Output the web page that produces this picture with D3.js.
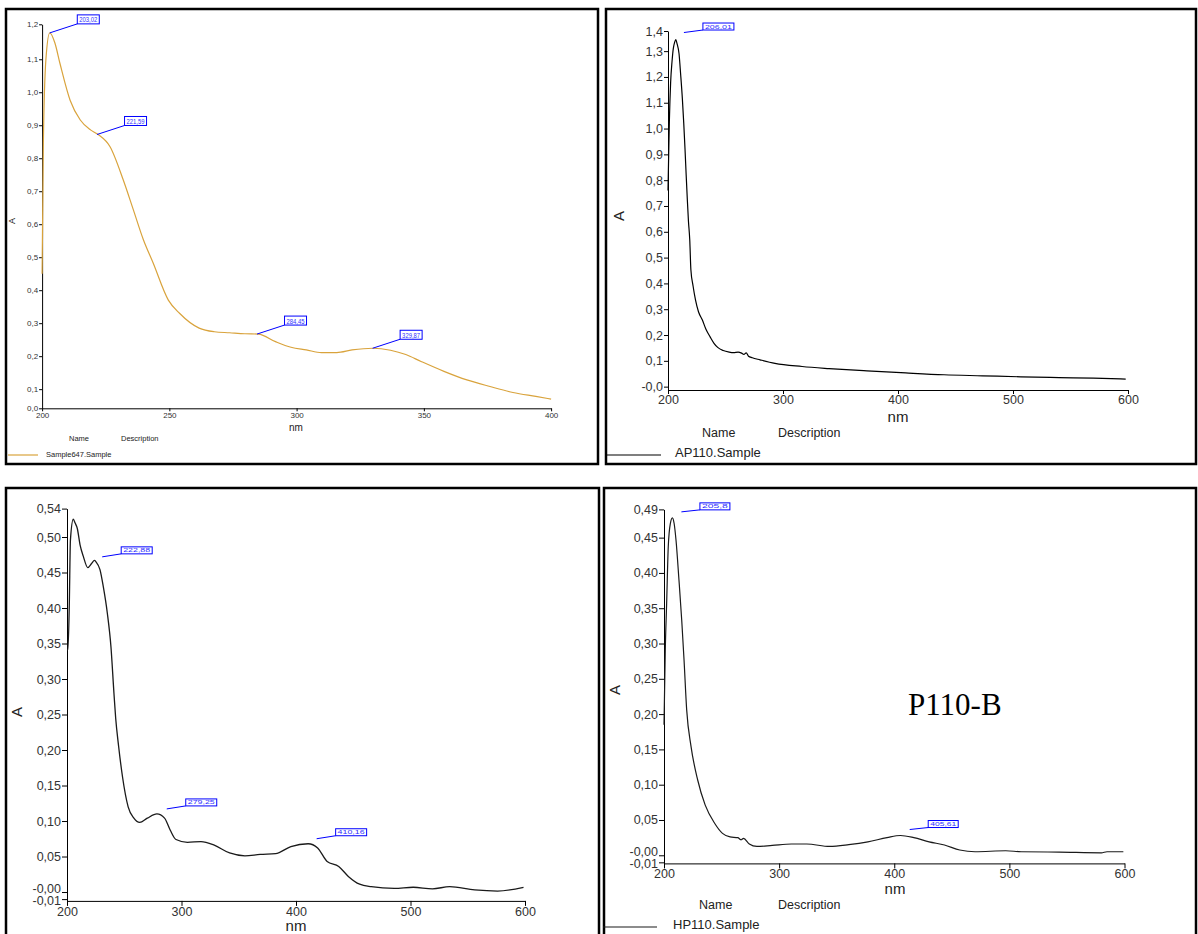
<!DOCTYPE html>
<html>
<head>
<meta charset="utf-8">
<script src="https://cdn.jsdelivr.net/npm/d3@7"></script>
<style>
  body { margin: 0; background: #fff; }
  svg { display: block; font-family: "Liberation Sans", Arial, sans-serif; }
</style>
</head>
<body>
<svg id="chart" width="1198" height="934"></svg>
<script>
// ---- data ----
// Sample647 (top left)
const s647Nm = [200, 200.5, 201.5, 203, 205, 207, 211, 215, 219, 222, 226.7, 231.9, 235.8, 239.8, 243.6, 249.6, 254, 261.7, 267.7, 273.7, 279.7, 285, 291.7, 297.8, 303.8, 309.8, 315.8, 321.8, 330, 336.9, 342.9, 348.9, 357.9, 366.9, 376, 385, 394, 400];
const s647A = [0.45, 0.85, 1.10, 1.18, 1.15, 1.088, 0.976, 0.916, 0.886, 0.872, 0.835, 0.734, 0.645, 0.553, 0.483, 0.370, 0.330, 0.285, 0.274, 0.271, 0.268, 0.267, 0.244, 0.227, 0.219, 0.211, 0.211, 0.219, 0.224, 0.218, 0.205, 0.184, 0.154, 0.128, 0.108, 0.090, 0.078, 0.070];
const s647PeakNm = [203.02, 221.59, 284.45, 329.87];
const s647PeakA = [1.18, 0.872, 0.267, 0.224];
const s647PeakLabels = ["203,02", "221,59", "284,45", "329,87"];
const s647XTicks = [200, 250, 300, 350, 400];
const s647YTicks = [0.042, 0.1, 0.2, 0.3, 0.4, 0.5, 0.6, 0.7, 0.8, 0.9, 1.0, 1.1, 1.206];
const s647YLabels = ["0,0", "0,1", "0,2", "0,3", "0,4", "0,5", "0,6", "0,7", "0,8", "0,9", "1,0", "1,1", "1,2"];

// AP110 (top right)
const ap110Nm = [200, 200.6, 201.2, 202.3, 203.5, 204.6, 205.8, 206.8, 207.8, 209.6, 211, 212.5, 213.7, 214.8, 215.8, 216.8, 217.8, 218.9, 219.9, 221.8, 223.9, 226.5, 229.9, 233, 236.6, 240, 243.2, 248, 253.2, 257, 261, 264, 266, 268, 270, 273.3, 280, 293, 316.6, 340, 373, 406.7, 440, 473.4, 506.8, 540, 570, 598];
const ap110A = [0.76, 0.90, 1.03, 1.18, 1.26, 1.31, 1.335, 1.345, 1.33, 1.29, 1.21, 1.115, 1.02, 0.92, 0.82, 0.725, 0.64, 0.57, 0.453, 0.39, 0.336, 0.29, 0.258, 0.222, 0.193, 0.168, 0.152, 0.140, 0.134, 0.132, 0.134, 0.130, 0.125, 0.131, 0.118, 0.112, 0.104, 0.090, 0.078, 0.070, 0.061, 0.053, 0.046, 0.042, 0.038, 0.035, 0.033, 0.029];
const ap110PeakNm = [206.01];
const ap110PeakA = [1.345];
const ap110PeakLabels = ["206,01"];
const ap110XTicks = [200, 300, 400, 500, 600];
const ap110YTicks = [0, 0.1, 0.2, 0.3, 0.4, 0.5, 0.6, 0.7, 0.8, 0.9, 1.0, 1.1, 1.2, 1.3, 1.378];
const ap110YLabels = ["-0,0", "0,1", "0,2", "0,3", "0,4", "0,5", "0,6", "0,7", "0,8", "0,9", "1,0", "1,1", "1,2", "1,3", "1,4"];

// bottom left
const blNm = [200, 200.8, 202, 203, 205.5, 207, 209, 211.4, 214.2, 218.1, 221.6, 224, 225.3, 228.8, 231.7, 235.2, 238.4, 241, 242.5, 245.1, 248.5, 253.4, 258.4, 263.5, 270.1, 278.5, 285.2, 290.2, 295.2, 305.2, 317, 328.6, 342, 355.4, 368.7, 382.1, 395.5, 410.6, 418.9, 427.2, 437.3, 445.7, 455.6, 465.7, 485.8, 502.4, 519.2, 534.2, 556, 576, 598.7];
const blA = [0.341, 0.341, 0.404, 0.496, 0.525, 0.52, 0.512, 0.489, 0.473, 0.457, 0.463, 0.467, 0.465, 0.454, 0.430, 0.393, 0.345, 0.28, 0.245, 0.205, 0.162, 0.120, 0.104, 0.098, 0.104, 0.110, 0.104, 0.087, 0.074, 0.070, 0.071, 0.066, 0.055, 0.051, 0.053, 0.054, 0.064, 0.068, 0.062, 0.043, 0.036, 0.022, 0.011, 0.0075, 0.005, 0.0067, 0.0045, 0.0075, 0.003, 0.0014, 0.0066];
const blPeakNm = [222.88, 279.25, 410.16];
const blPeakA = [0.465, 0.110, 0.068];
const blPeakLabels = ["222,88", "279,25", "410,16"];
const blXTicks = [200, 300, 400, 500, 600];
const blYTicks = [-0.01, 0, 0.05, 0.10, 0.15, 0.20, 0.25, 0.30, 0.35, 0.40, 0.45, 0.50, 0.54];
const blYLabels = ["-0,01", "-0,00", "0,05", "0,10", "0,15", "0,20", "0,25", "0,30", "0,35", "0,40", "0,45", "0,50", "0,54"];

// HP110 (bottom right)
const hp110Nm = [200, 201.1, 202.3, 203.7, 205.5, 207.3, 208.8, 210.4, 213, 215.4, 217.4, 219.7, 223.5, 229.2, 235.8, 244.1, 250.8, 257.4, 264.1, 267, 269.1, 274.1, 280.7, 294, 310.7, 324, 343.9, 360.5, 377.1, 393.7, 405.4, 417, 430.3, 443.6, 456.9, 470.2, 496.9, 510.2, 543.4, 579.9, 584.8, 599];
const hp110A = [0.185, 0.29, 0.357, 0.437, 0.47, 0.478, 0.47, 0.447, 0.390, 0.333, 0.277, 0.206, 0.154, 0.107, 0.071, 0.045, 0.031, 0.026, 0.025, 0.022, 0.024, 0.016, 0.0125, 0.014, 0.016, 0.016, 0.0125, 0.015, 0.019, 0.025, 0.028, 0.025, 0.019, 0.0146, 0.0075, 0.005, 0.0064, 0.005, 0.0045, 0.0035, 0.005, 0.005];
const hp110PeakNm = [207.3, 405.61];
const hp110PeakA = [0.478, 0.028];
const hp110PeakLabels = ["205,8", "405,61"];
const hp110XTicks = [200, 300, 400, 500, 600];
const hp110YTicks = [-0.01, 0, 0.05, 0.10, 0.15, 0.20, 0.25, 0.30, 0.35, 0.40, 0.45, 0.49];
const hp110YLabels = ["-0,01", "-0,00", "0,05", "0,10", "0,15", "0,20", "0,25", "0,30", "0,35", "0,40", "0,45", "0,49"];

const svg = d3.select("#chart");

// panel frames
[[6, 9, 592, 455], [606, 9, 590, 455], [6, 488, 593, 452], [604, 488, 592, 452]].forEach(([x, y, w, h]) => {
  svg.append("rect").attr("x", x).attr("y", y).attr("width", w).attr("height", h)
    .attr("fill", "none").attr("stroke", "#000").attr("stroke-width", 2.5);
});

function drawPanel(o) {
  const x = d3.scaleLinear().domain(o.xDomain).range(o.xRange);
  const y = d3.scaleLinear().domain(o.yDomain).range(o.yRange);
  const g = svg.append("g");

  const yAxis = d3.axisLeft(y).tickValues(o.yTicks).tickFormat((d, i) => o.yLabels[i])
    .tickSize(o.tick).tickSizeOuter(0).tickPadding(1);
  const xAxis = d3.axisBottom(x).tickValues(o.xTicks).tickFormat(d3.format("d"))
    .tickSize(o.tick).tickSizeOuter(0).tickPadding(1);

  g.append("g").attr("transform", `translate(${o.xRange[0]},0)`).call(yAxis)
    .call(a => a.selectAll("text").attr("font-size", o.fs).attr("fill", "#333").attr("font-family", null))
    // the two labels crowded at the bottom are pushed apart, as in the original
    .call(a => a.selectAll(".tick text").filter(d => d === 0 && o.yTicks.includes(-0.01)).attr("dy", "0.05em"))
    .call(a => a.selectAll(".tick text").filter(d => d === -0.01).attr("dy", "0.42em"));
  g.append("g").attr("transform", `translate(0,${o.yRange[0]})`).call(xAxis)
    .call(a => a.selectAll("text").attr("font-size", o.fs).attr("fill", "#333").attr("font-family", null));
  g.selectAll(".domain, .tick line").attr("stroke", "#000");

  const line = d3.line().x((d, i) => x(o.nm[i])).y(d => y(d)).curve(d3.curveMonotoneX);
  g.append("path").attr("d", line(o.a)).attr("fill", "none")
    .attr("stroke", o.color).attr("stroke-width", o.lw);

  // peak labels
  o.peakNm.forEach((nm, i) => {
    const ax = x(nm) + o.lead[0], ay = y(o.peakA[i]) + o.lead[1];
    const bx = ax + o.box[0], by = ay + o.box[1];
    g.append("line").attr("x1", ax).attr("y1", ay).attr("x2", bx).attr("y2", by)
      .attr("stroke", "#0000ff").attr("stroke-width", 1);
    g.append("rect").attr("x", bx).attr("y", by - o.boxH).attr("width", o.boxW).attr("height", o.boxH)
      .attr("fill", "#fff").attr("stroke", "#0000ff").attr("stroke-width", 1);
    g.append("text").attr("x", bx + 2).attr("y", by - 1.5)
      .attr("font-size", o.boxFs).attr("fill", "#3030ff")
      .attr("textLength", o.boxW - 4).attr("lengthAdjust", "spacingAndGlyphs")
      .text(o.peakLabels[i]);
  });

  // axis titles
  g.append("text").attr("transform", `translate(${o.aPos[0]},${o.aPos[1]}) rotate(-90)`)
    .attr("text-anchor", "middle").attr("font-size", o.titleFs).attr("fill", "#222").text("A");
  g.append("text").attr("x", o.nmPos[0]).attr("y", o.nmPos[1]).attr("text-anchor", "middle")
    .attr("font-size", o.nmFs).attr("fill", "#222").text("nm");

  if (o.legend) {
    const L = o.legend;
    g.append("text").attr("x", L.name[0]).attr("y", L.name[1]).attr("font-size", L.fs).attr("fill", "#222").text("Name");
    g.append("text").attr("x", L.desc[0]).attr("y", L.desc[1]).attr("font-size", L.fs).attr("fill", "#222").text("Description");
    g.append("line").attr("x1", L.line[0]).attr("x2", L.line[1]).attr("y1", L.line[2]).attr("y2", L.line[2])
      .attr("stroke", o.color).attr("stroke-width", 1.2);
    g.append("text").attr("x", L.label[0]).attr("y", L.label[1]).attr("font-size", L.fs2).attr("fill", "#222").text(L.text);
  }
}

drawPanel({
  nm: s647Nm, a: s647A, xDomain: [200, 400], xRange: [42.1, 551.1], yDomain: [0.042, 1.206], yRange: [408.3, 24.3],
  xTicks: s647XTicks, yTicks: s647YTicks, yLabels: s647YLabels, tick: 3, fs: 8,
  color: "#d9a33c", lw: 1.2,
  peakNm: s647PeakNm, peakA: s647PeakA, peakLabels: s647PeakLabels, lead: [0, 0], box: [27.5, -9], boxW: 22, boxH: 9, boxFs: 7,
  aPos: [15, 221], titleFs: 9, nmPos: [296, 431], nmFs: 10,
  legend: { name: [69, 441], desc: [121, 441], fs: 7.5, line: [8, 38, 455], label: [46, 457], fs2: 7.5, text: "Sample647.Sample" }
});

drawPanel({
  nm: ap110Nm, a: ap110A, xDomain: [200, 600], xRange: [668, 1128], yDomain: [-0.013, 1.378], yRange: [390, 31],
  xTicks: ap110XTicks, yTicks: ap110YTicks, yLabels: ap110YLabels, tick: 4, fs: 12.5,
  color: "#000", lw: 1.2,
  peakNm: ap110PeakNm, peakA: ap110PeakA, peakLabels: ap110PeakLabels, lead: [9, -7], box: [19, -2.5], boxW: 31, boxH: 7, boxFs: 6,
  aPos: [624, 216], titleFs: 15, nmPos: [898, 422], nmFs: 15,
  legend: { name: [702, 437], desc: [778, 437], fs: 12.5, line: [607, 661, 455], label: [675, 457], fs2: 13, text: "AP110.Sample" }
});

drawPanel({
  nm: blNm, a: blA, xDomain: [200, 600], xRange: [67, 525], yDomain: [-0.0125, 0.54], yRange: [900.9, 508.6],
  xTicks: blXTicks, yTicks: blYTicks, yLabels: blYLabels, tick: 5, fs: 12.5,
  color: "#1a1a1a", lw: 1.3,
  peakNm: blPeakNm, peakA: blPeakA, peakLabels: blPeakLabels, lead: [9, -5], box: [19, -3], boxW: 31, boxH: 7, boxFs: 6,
  aPos: [22, 712], titleFs: 15, nmPos: [296, 931], nmFs: 15,
  legend: null
});

drawPanel({
  nm: hp110Nm, a: hp110A, xDomain: [200, 600], xRange: [664, 1124.5], yDomain: [-0.0115, 0.49], yRange: [863.4, 509.4],
  xTicks: hp110XTicks, yTicks: hp110YTicks, yLabels: hp110YLabels, tick: 5, fs: 12.5,
  color: "#1a1a1a", lw: 1.2,
  peakNm: hp110PeakNm, peakA: hp110PeakA, peakLabels: hp110PeakLabels, lead: [9, -6], box: [18.5, -2], boxW: 30, boxH: 7, boxFs: 6,
  aPos: [620, 690], titleFs: 15, nmPos: [895, 894], nmFs: 15,
  legend: { name: [699, 909], desc: [778, 909], fs: 12.5, line: [603, 657, 927], label: [673, 929], fs2: 13, text: "HP110.Sample" }
});

svg.append("text").attr("x", 908).attr("y", 715)
  .attr("font-family", "'Liberation Serif', 'Times New Roman', serif").attr("font-size", 31)
  .attr("fill", "#000").text("P110-B");
</script>
</body>
</html>
